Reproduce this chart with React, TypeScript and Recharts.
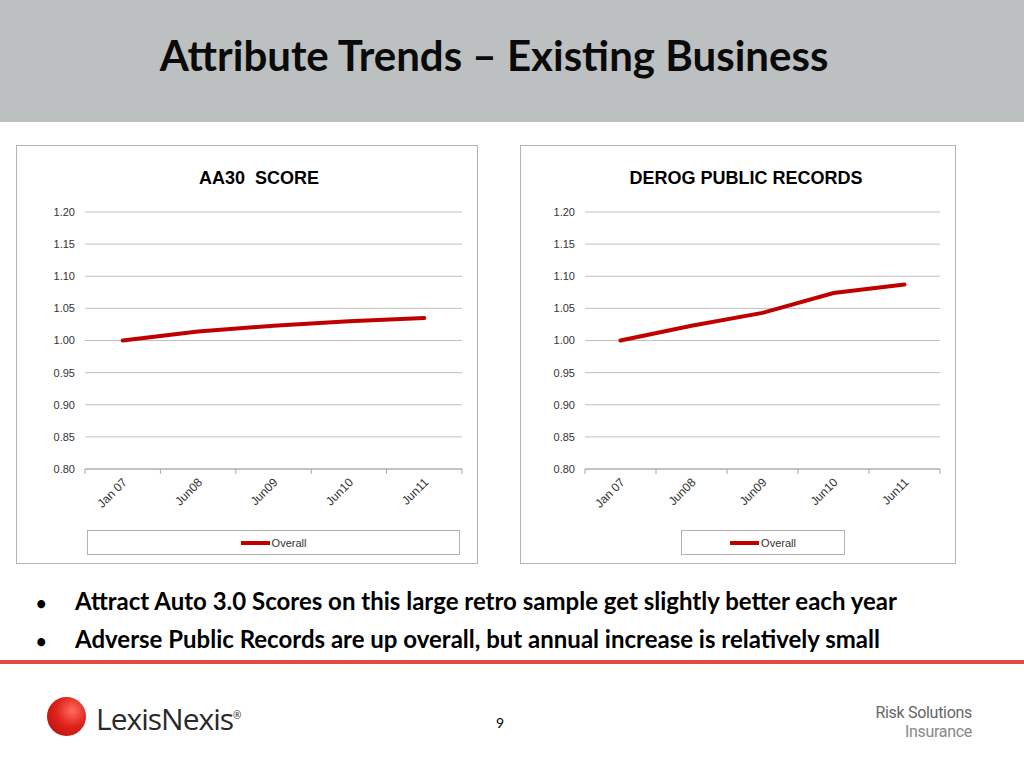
import React from 'react';
import { ComposedChart, Line, XAxis, YAxis, CartesianGrid, Legend } from 'recharts';

const categories = ['Jan 07', 'Jun08', 'Jun09', 'Jun10', 'Jun11'];
const aa30Values = [1.0, 1.014, 1.023, 1.03, 1.035];
const derogValues = [1.0, 1.023, 1.043, 1.074, 1.087];
const yTicks = [0.8, 0.85, 0.9, 0.95, 1.0, 1.05, 1.1, 1.15, 1.2];
const seriesName = 'Overall';

const LINE_RED = '#c00000';
const ARIAL = '"Liberation Sans", Arial, sans-serif';
const CALIBRI = 'Lato, "Open Sans", sans-serif';

const XTick = (props: any) => {
  const { x, y, payload, index, width } = props;
  const half = payload && payload.offset ? payload.offset : width / categories.length / 2;
  const isLast = index === categories.length - 1;
  return (
    <g>
      <line x1={x - half} y1={y} x2={x - half} y2={y + 5} stroke="#a6a6a6" />
      {isLast && <line x1={x + half} y1={y} x2={x + half} y2={y + 5} stroke="#a6a6a6" />}
      <text
        x={x + 5}
        y={y + 14}
        textAnchor="end"
        transform={`rotate(-45, ${x + 5}, ${y + 14})`}
        fontSize={12}
        fontFamily={ARIAL}
        fill="#333"
      >
        {payload.value}
      </text>
    </g>
  );
};

const LegendBox = () => (
  <div
    style={{
      boxSizing: 'border-box',
      width: '100%',
      height: 25,
      border: '1px solid #b3b3b3',
      display: 'flex',
      alignItems: 'center',
      justifyContent: 'center',
      fontFamily: ARIAL,
      fontSize: 11,
      color: '#333',
    }}
  >
    <span style={{ display: 'inline-block', width: 29, height: 4, background: LINE_RED, marginRight: 2 }} />
    {seriesName}
  </div>
);

interface PanelProps {
  title: string;
  values: number[];
  left: number;
  width: number;
  yAxisWidth: number;
  titleCenter: number;
  legendLeft: number;
  legendWidth: number;
}

const ChartPanel: React.FC<PanelProps> = ({ title, values, left, width, yAxisWidth, titleCenter, legendLeft, legendWidth }) => {
  const data = categories.map((c, i) => ({ cat: c, overall: values[i] }));
  const inner = width - 2;
  return (
    <div
      style={{
        position: 'absolute',
        left,
        top: 145,
        width,
        height: 419,
        boxSizing: 'border-box',
        border: '1px solid #b3b3b3',
        background: '#fff',
      }}
    >
      <div
        style={{
          position: 'absolute',
          left: titleCenter - 200,
          width: 400,
          top: 22,
          textAlign: 'center',
          fontFamily: ARIAL,
          fontWeight: 'bold',
          fontSize: 18,
          whiteSpace: 'pre',
          color: '#000',
        }}
      >
        {title}
      </div>
      <div style={{ position: 'absolute', left: 0, top: 0 }}>
        <ComposedChart width={inner} height={417} data={data} margin={{ top: 66, right: 15, bottom: 34, left: 0 }}>
          <CartesianGrid vertical={false} stroke="#bfbfbf" />
          <XAxis
            dataKey="cat"
            scale="band"
            interval={0}
            tickLine={false}
            tickSize={0}
            tickMargin={0}
            height={60}
            axisLine={{ stroke: '#a6a6a6' }}
            tick={<XTick />}
          />
          <YAxis
            domain={[0.8, 1.2]}
            ticks={yTicks}
            width={yAxisWidth}
            axisLine={false}
            tickLine={false}
            tickSize={0}
            tickMargin={10}
            tickFormatter={(v: number) => v.toFixed(2)}
            tick={{ fontSize: 11, fontFamily: ARIAL, fill: '#333' }}
          />
          <Legend
            layout="horizontal"
            align="center"
            verticalAlign="middle"
            width={legendWidth}
            content={() => <LegendBox />}
            wrapperStyle={{ left: legendLeft, top: 384, width: legendWidth, height: 25 }}
          />
          <Line
            type="linear"
            dataKey="overall"
            name={seriesName}
            stroke={LINE_RED}
            strokeWidth={4}
            strokeLinecap="round"
            dot={false}
            isAnimationActive={false}
          />
        </ComposedChart>
      </div>
    </div>
  );
};

export default function App() {
  return (
    <div style={{ position: 'absolute', left: 0, top: 0, width: 1024, height: 768, background: '#fff', overflow: 'hidden' }}>
      <div style={{ position: 'absolute', left: 0, top: 0, width: 1024, height: 122, background: '#bcc0c1' }} />
      <div
        style={{
          position: 'absolute',
          left: 0,
          width: 988,
          top: 30,
          textAlign: 'center',
          fontFamily: CALIBRI,
          fontWeight: 'bold',
          fontSize: 42,
          color: '#0a0a0a',
          lineHeight: '50px',
        }}
      >
        Attribute Trends – Existing Business
      </div>

      <ChartPanel
        title={'AA30  SCORE'}
        values={aa30Values}
        left={16}
        width={462}
        yAxisWidth={68}
        titleCenter={242}
        legendLeft={70}
        legendWidth={373}
      />
      <ChartPanel
        title="DEROG PUBLIC RECORDS"
        values={derogValues}
        left={520}
        width={436}
        yAxisWidth={64}
        titleCenter={225}
        legendLeft={160}
        legendWidth={164}
      />

      <div style={{ position: 'absolute', left: 36, top: 583, fontFamily: CALIBRI, fontWeight: 'bold', fontSize: 24, color: '#000', lineHeight: '36px' }}>
        <div><span style={{ display: 'inline-block', width: 39, fontSize: 18 }}>•</span>Attract Auto 3.0 Scores on this large retro sample get slightly better each year</div>
        <div><span style={{ display: 'inline-block', width: 39, fontSize: 18 }}>•</span>Adverse Public Records are up overall, but annual increase is relatively small</div>
      </div>

      <div style={{ position: 'absolute', left: 0, top: 660, width: 1024, height: 4, background: '#e34a46' }} />

      <div
        style={{
          position: 'absolute',
          left: 47,
          top: 697,
          width: 39,
          height: 39,
          borderRadius: '50%',
          background: 'radial-gradient(circle at 65% 35%, #ff6b5e 0%, #e0231b 45%, #a80d0a 100%)',
        }}
      />
      <div style={{ position: 'absolute', left: 96, top: 697, fontFamily: '"Open Sans", sans-serif', fontSize: 30, color: '#2a2a2a', lineHeight: '36px', letterSpacing: -1 }}>
        LexisNexis<span style={{ fontSize: 10, verticalAlign: 'super' }}>®</span>
      </div>
      <div style={{ position: 'absolute', left: 496, top: 714, fontFamily: CALIBRI, fontSize: 14, color: '#000' }}>9</div>
      <div style={{ position: 'absolute', right: 52, top: 703, textAlign: 'right', fontFamily: 'Roboto, sans-serif', color: '#666', lineHeight: '19px', letterSpacing: -0.3 }}>
        <div style={{ fontSize: 16 }}>Risk Solutions</div>
        <div style={{ fontSize: 16, color: '#888' }}>Insurance</div>
      </div>
    </div>
  );
}
